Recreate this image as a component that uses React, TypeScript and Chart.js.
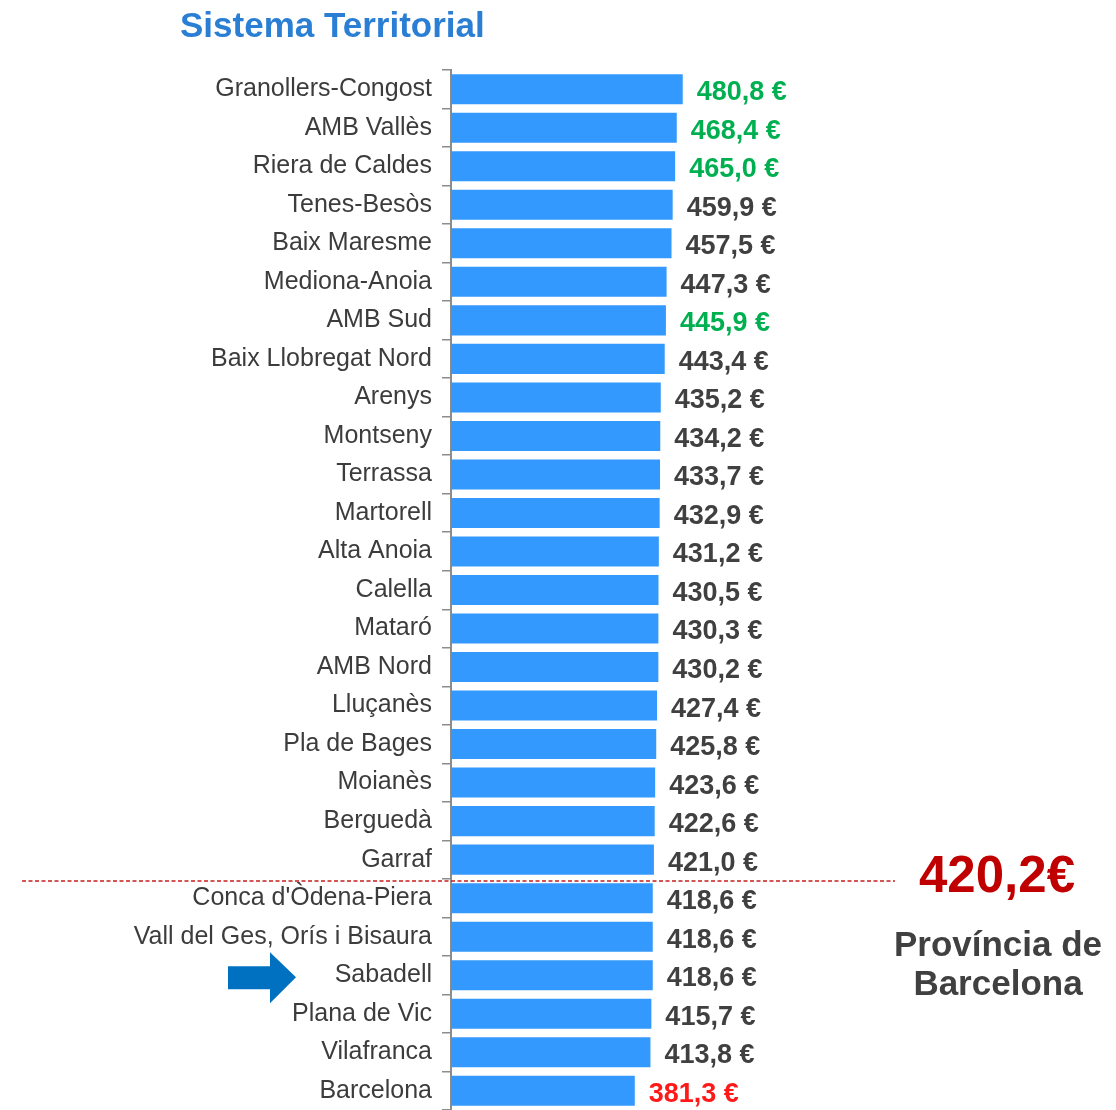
import React, { useEffect, useRef } from "react";
import { Chart, registerables } from "chart.js";

Chart.register(...registerables);

const titleText = "Sistema Territorial";

const categories = [
  "Granollers-Congost",
  "AMB Vallès",
  "Riera de Caldes",
  "Tenes-Besòs",
  "Baix Maresme",
  "Mediona-Anoia",
  "AMB Sud",
  "Baix Llobregat Nord",
  "Arenys",
  "Montseny",
  "Terrassa",
  "Martorell",
  "Alta Anoia",
  "Calella",
  "Mataró",
  "AMB Nord",
  "Lluçanès",
  "Pla de Bages",
  "Moianès",
  "Berguedà",
  "Garraf",
  "Conca d'Òdena-Piera",
  "Vall del Ges, Orís i Bisaura",
  "Sabadell",
  "Plana de Vic",
  "Vilafranca",
  "Barcelona",
];

const values = [
  480.8, 468.4, 465.0, 459.9, 457.5, 447.3, 445.9, 443.4, 435.2, 434.2, 433.7,
  432.9, 431.2, 430.5, 430.3, 430.2, 427.4, 425.8, 423.6, 422.6, 421.0, 418.6,
  418.6, 418.6, 415.7, 413.8, 381.3,
];

// highlight group of each value label: "up", "down" or ""
const valueGroups = [
  "up", "up", "up", "", "", "", "up", "", "", "", "", "", "", "", "", "", "",
  "", "", "", "", "", "", "", "", "", "down",
];

const provinceAverage = 420.2;
const averageLabelLines = ["Província de", "Barcelona"];
const markedCategory = "Sabadell";

const FONT = "'Liberation Sans', Arial, sans-serif";
const groupColor: Record<string, string> = {
  up: "#00b050",
  down: "#ff1a1a",
  "": "#404040",
};

const fmt = (v: number) => v.toFixed(1).replace(".", ",");

const overlayPlugin = {
  id: "overlay",
  afterDatasetsDraw(chart: any) {
    const ctx = chart.ctx;
    const meta = chart.getDatasetMeta(0);
    const els = meta.data;
    ctx.save();

    // title
    ctx.fillStyle = "#2a7fd4";
    ctx.font = `bold 35px ${FONT}`;
    ctx.textAlign = "left";
    ctx.textBaseline = "middle";
    ctx.fillText(titleText, 180, 27);

    // value labels
    ctx.font = `bold 27px ${FONT}`;
    els.forEach((el: any, i: number) => {
      ctx.fillStyle = groupColor[valueGroups[i]] || "#404040";
      ctx.textAlign = "left";
      ctx.textBaseline = "middle";
      ctx.fillText(fmt(values[i]) + " €", el.x + 14, el.y + 3.5);
    });

    // average line between last bar above and first bar below the average
    const idx = values.findIndex((v) => v < provinceAverage);
    if (idx > 0) {
      const ly = (els[idx - 1].y + els[idx].y) / 2 + 2;
      ctx.strokeStyle = "#c81e1e";
      ctx.lineWidth = 1.5;
      ctx.setLineDash([4, 2.5]);
      ctx.beginPath();
      ctx.moveTo(22, ly);
      ctx.lineTo(895, ly);
      ctx.stroke();
      ctx.setLineDash([]);

      ctx.textAlign = "center";
      ctx.textBaseline = "middle";
      ctx.fillStyle = "#c00000";
      ctx.font = `bold 51px ${FONT}`;
      ctx.fillText(fmt(provinceAverage) + "€", 997, ly - 3);
      ctx.fillStyle = "#404040";
      ctx.font = `bold 35px ${FONT}`;
      ctx.fillText(averageLabelLines[0], 998, ly + 65);
      ctx.fillText(averageLabelLines[1], 998, ly + 104);
    }

    // arrow next to the marked category
    const mi = categories.indexOf(markedCategory);
    if (mi >= 0) {
      const cy = els[mi].y + 2;
      ctx.fillStyle = "#0070c0";
      ctx.beginPath();
      ctx.moveTo(228, cy - 11);
      ctx.lineTo(270, cy - 11);
      ctx.lineTo(270, cy - 25);
      ctx.lineTo(296, cy);
      ctx.lineTo(270, cy + 26);
      ctx.lineTo(270, cy + 12);
      ctx.lineTo(228, cy + 12);
      ctx.closePath();
      ctx.fill();
    }
    ctx.restore();
  },
};

export default function App() {
  const ref = useRef<HTMLCanvasElement | null>(null);

  useEffect(() => {
    if (!ref.current) return;
    const chart = new Chart(ref.current, {
      type: "bar",
      data: {
        labels: categories,
        datasets: [
          {
            data: values,
            backgroundColor: "#3399ff",
            borderWidth: 0,
            barPercentage: 0.78,
            categoryPercentage: 1,
          },
        ],
      },
      options: {
        responsive: false,
        animation: false,
        indexAxis: "y",
        layout: { padding: { top: 70, right: 183, bottom: 0, left: 0 } },
        plugins: {
          legend: { display: false },
          tooltip: { enabled: false },
          title: { display: false },
        },
        scales: {
          x: { display: false, min: 0, max: 1000 },
          y: {
            afterFit(s: any) {
              s.width = 451;
              s.paddingTop = 0;
              s.paddingBottom = 0;
            },
            grid: {
              drawOnChartArea: false,
              tickLength: 9,
              color: "#8c8c8c",
              lineWidth: 1.5,
              offset: true,
            },
            border: { color: "#8c8c8c", width: 2 },
            ticks: {
              autoSkip: false,
              padding: 10,
              color: "#3c3c3c",
              font: { family: FONT, size: 25 },
            },
          },
        },
      },
      plugins: [overlayPlugin],
    } as any);
    return () => chart.destroy();
  }, []);

  return (
    <div style={{ position: "absolute", left: 0, top: 0, width: 1116, height: 1110, background: "#fff" }}>
      <canvas ref={ref} width={1116} height={1110} style={{ display: "block" }} />
    </div>
  );
}
